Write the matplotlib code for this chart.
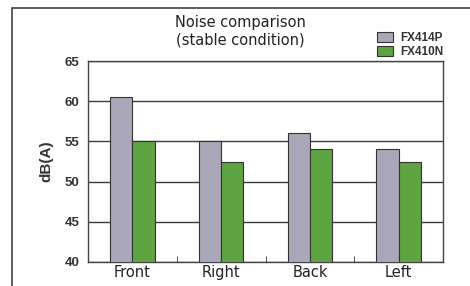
import matplotlib.pyplot as plt
import numpy as np
from matplotlib.patches import Rectangle

categories = ['Front', 'Right', 'Back', 'Left']
fx414p = [60.5, 55, 56, 54]
fx410n = [55, 52.5, 54, 52.5]

fig = plt.figure(figsize=(4.7, 2.86), dpi=100)
# outer frame (right side cut off in the original)
fig.patches.append(Rectangle((12/470, -0.1), 1.0, (286-8)/286 + 0.1, transform=fig.transFigure,
                             fill=False, edgecolor='#444444', linewidth=1.2))

ax = fig.add_axes([88/470, 1 - 262/286, (443-88)/470, (262-61)/286])
x = np.arange(len(categories))
w = 0.25
ax.bar(x - w/2, fx414p, w, color='#aaa7b8', edgecolor='#333333', linewidth=0.8, label='FX414P', zorder=3)
ax.bar(x + w/2, fx410n, w, color='#5ea440', edgecolor='#333333', linewidth=0.8, label='FX410N', zorder=3)

ax.set_ylim(40, 65)
ax.set_xlim(-0.5, 3.5)
ax.set_yticks([40, 45, 50, 55, 60, 65])
ax.yaxis.grid(True, color='#3a3a3a', linewidth=1.0, zorder=0)
ax.set_axisbelow(True)
ax.set_xticks(x)
ax.set_xticklabels(categories, fontsize=10.5, color='#222222')
ax.set_xticks([0.5, 1.5, 2.5], minor=True)
ax.tick_params(axis='x', which='major', length=0, pad=2)
ax.tick_params(axis='x', which='minor', direction='in', length=4, color='#333333')
ax.tick_params(axis='y', length=0, pad=6)
for lab in ax.get_yticklabels():
    lab.set_fontfamily('Liberation Sans')
    lab.set_fontsize(9.5)
    lab.set_fontweight('bold')
    lab.set_color('#333333')
ax.set_ylabel('dB(A)', fontsize=11, fontweight='bold', color='#333333', labelpad=8,
              family='Liberation Sans')
for s in ax.spines.values():
    s.set_color('#444444')
    s.set_linewidth(1.0)

fig.text(240/470, 1 - 22/286, 'Noise comparison', ha='center', va='center', fontsize=10.5, color='#222222')
fig.text(240/470, 1 - 40/286, '(stable condition)', ha='center', va='center', fontsize=10.5, color='#222222')

fig.legend(loc='upper left', bbox_to_anchor=(371/470, 1 - 26/286), frameon=False,
           prop={'size': 8.5, 'weight': 'bold', 'family': 'Liberation Sans'},
           handlelength=1.4, handleheight=0.9,
           labelspacing=0.2, handletextpad=0.55, borderpad=0, labelcolor='#333333')

fig.savefig('out.png', dpi=100)
